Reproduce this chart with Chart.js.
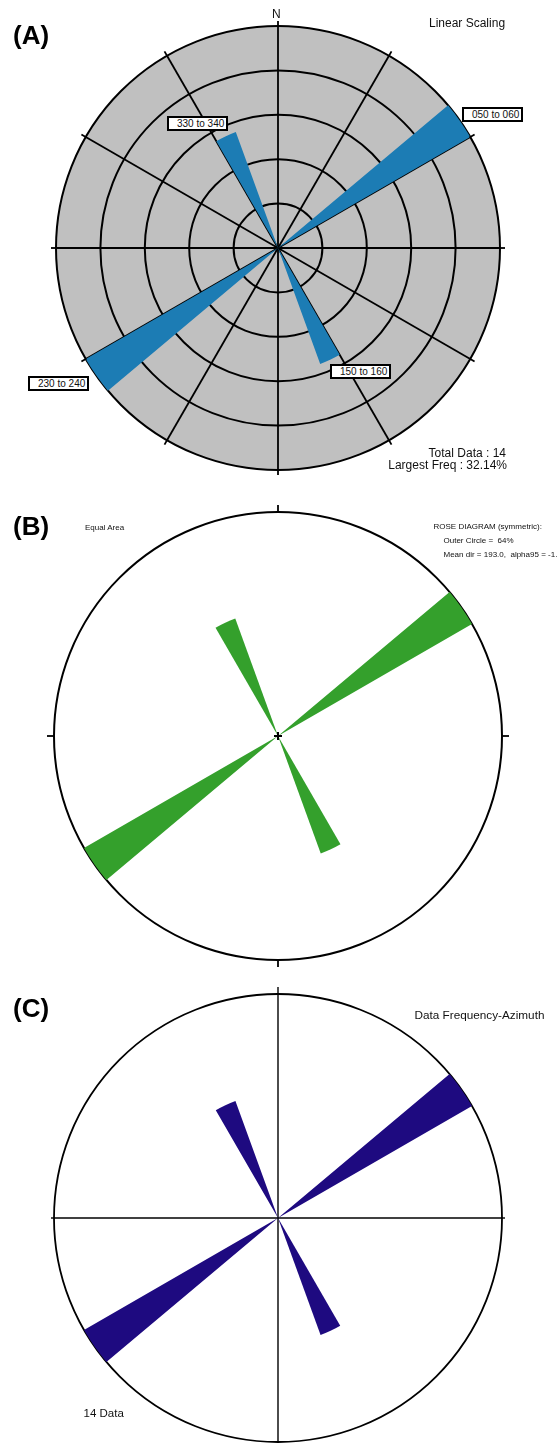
<!DOCTYPE html>
<html><head><meta charset="utf-8">
<script src="https://cdn.jsdelivr.net/npm/chart.js@4.4.1/dist/chart.umd.min.js"></script>
<style>
html,body{margin:0;padding:0;background:#fff;}
#page{position:relative;width:558px;height:1443px;overflow:hidden;font-family:Arial,"Liberation Sans",sans-serif;color:#111;}
canvas{position:absolute;left:0;}
.t{position:absolute;white-space:nowrap;line-height:1;}
.panel{font-weight:bold;font-size:26px;left:13px;color:#000;}
.box{position:absolute;box-sizing:border-box;border:2px solid #000;background:#fff;font-size:10px;line-height:11px;padding-left:8px;width:61px;height:15px;white-space:nowrap;color:#111;}
</style></head>
<body>
<div id="page">
  <canvas id="cA" width="558" height="490" style="top:0px"></canvas>
  <canvas id="cB" width="558" height="478" style="top:490px"></canvas>
  <canvas id="cC" width="558" height="475" style="top:968px"></canvas>

  <div class="t panel" style="top:22px">(A)</div>
  <div class="t" style="top:8px;left:272px;font-size:12px">N</div>
  <div class="t" style="top:17px;left:429px;font-size:12px">Linear Scaling</div>
  <div class="box" style="left:167px;top:116px">330 to 340</div>
  <div class="box" style="left:462px;top:107px">050 to 060</div>
  <div class="box" style="left:330px;top:364px">150 to 160</div>
  <div class="box" style="left:28px;top:376px">230 to 240</div>
  <div class="t" style="top:447px;right:52px;font-size:12px">Total Data : 14</div>
  <div class="t" style="top:459px;right:51px;font-size:12px">Largest Freq : 32.14%</div>

  <div class="t panel" style="top:513px">(B)</div>
  <div class="t" style="top:524px;left:85px;font-size:8px">Equal Area</div>
  <div class="t" style="top:522.5px;left:433.5px;font-size:8px">ROSE DIAGRAM (symmetric):</div>
  <div class="t" style="top:537px;left:443.5px;font-size:8px">Outer Circle =&nbsp; 64%</div>
  <div class="t" style="top:551px;left:443.5px;font-size:8px">Mean dir = 193.0,&nbsp; alpha95 = -1.</div>

  <div class="t panel" style="top:995px">(C)</div>
  <div class="t" style="top:1009px;left:414.5px;font-size:11.75px">Data Frequency-Azimuth</div>
  <div class="t" style="top:1407.5px;left:83.5px;font-size:11.5px">14 Data</div>
</div>
<script>
// ---- data (10-degree azimuth bins, symmetric rose) ----
const azimuthBins = [
  '000 to 010','010 to 020','020 to 030','030 to 040','040 to 050','050 to 060',
  '060 to 070','070 to 080','080 to 090','090 to 100','100 to 110','110 to 120',
  '120 to 130','130 to 140','140 to 150','150 to 160','160 to 170','170 to 180',
  '180 to 190','190 to 200','200 to 210','210 to 220','220 to 230','230 to 240',
  '240 to 250','250 to 260','260 to 270','270 to 280','280 to 290','290 to 300',
  '300 to 310','310 to 320','320 to 330','330 to 340','340 to 350','350 to 360'
];
// (A) Linear Scaling, percent of data
const linearPercent = [
  0,0,0,0,0,32.14, 0,0,0,0,0,0,
  0,0,0,17.86,0,0, 0,0,0,0,0,32.14,
  0,0,0,0,0,0, 0,0,0,17.86,0,0
];
const linearOuter = 32.14;
const linearRings = 5;
// (B) Equal Area, percent
const equalAreaPercent = [
  0,0,0,0,0,64, 0,0,0,0,0,0,
  0,0,0,35.7,0,0, 0,0,0,0,0,64,
  0,0,0,0,0,0, 0,0,0,35.7,0,0
];
const equalAreaOuter = 64;
// (C) Data Frequency-Azimuth, counts
const frequencyCounts = [
  0,0,0,0,0,9, 0,0,0,0,0,0,
  0,0,0,5,0,0, 0,0,0,0,0,9,
  0,0,0,0,0,0, 0,0,0,5,0,0
];
const frequencyOuter = 9;

// ---- plugin: small outward ticks / centre cross on the radial scale ----
const roseExtras = {
  id: 'roseExtras',
  afterDraw(chart, args, opts) {
    const s = chart.scales.r, ctx = chart.ctx, R = s.drawingArea;
    ctx.save();
    ctx.strokeStyle = '#000';
    ctx.lineWidth = opts.lineWidth || 1.5;
    (opts.spokes || []).forEach(([i, len]) => {
      const a = s.getPointPosition(i, R - 1), b = s.getPointPosition(i, R + len);
      ctx.beginPath(); ctx.moveTo(a.x, a.y); ctx.lineTo(b.x, b.y); ctx.stroke();
    });
    if (opts.cross) {
      const c = opts.cross;
      ctx.lineWidth = 2;
      ctx.beginPath();
      ctx.moveTo(s.xCenter - c, s.yCenter); ctx.lineTo(s.xCenter + c, s.yCenter);
      ctx.moveTo(s.xCenter, s.yCenter - c); ctx.lineTo(s.xCenter, s.yCenter + c);
      ctx.stroke();
    }
    ctx.restore();
  }
};

function rose(id, values, color, outer, rings, gridWidth, scaleOpts, extras, padding) {
  return new Chart(document.getElementById(id), {
    type: 'polarArea',
    data: { labels: azimuthBins, datasets: [{ data: values, backgroundColor: color, borderWidth: 0 }] },
    plugins: [roseExtras],
    options: {
      responsive: false, animation: false, devicePixelRatio: 1,
      layout: { padding },
      plugins: { legend: { display: false }, tooltip: { enabled: false }, roseExtras: extras },
      scales: { r: Object.assign({
        min: 0, max: outer, startAngle: 0,
        ticks: { display: false, count: rings + 1 },
        pointLabels: { display: false },
        grid: { circular: true, color: '#000', lineWidth: gridWidth },
      }, scaleOpts) }
    }
  });
}

const everyN = (n, w) => ctx => (ctx.index % n === 0 ? w : 0);

rose('cA', linearPercent, '#1c7cb4', linearOuter, linearRings, 2,
  { backgroundColor: '#c0c0c0', angleLines: { display: true, color: '#000', lineWidth: everyN(3, 1.8) } },
  { lineWidth: 1.8, spokes: [0,3,6,9,12,15,18,21,24,27,30,33].map(i => [i, 5]) },
  { left: 56, right: 58, top: 26, bottom: 20 });

rose('cB', equalAreaPercent, '#34a02c', equalAreaOuter, 1, 2,
  { angleLines: { display: false } },
  { lineWidth: 1.8, spokes: [[0, 7], [9, 7], [18, 7], [27, 7]], cross: 4 },
  { left: 54, right: 56, top: 22, bottom: 8 });

rose('cC', frequencyCounts, '#1e0a80', frequencyOuter, 1, 1.8,
  { z: 1, angleLines: { display: true, color: '#000', lineWidth: everyN(9, 1.4) } },
  { lineWidth: 1.4, spokes: [[0, 7], [9, 3], [18, 2], [27, 3]] },
  { left: 54, right: 56, top: 26, bottom: 1 });
</script>
</body></html>
